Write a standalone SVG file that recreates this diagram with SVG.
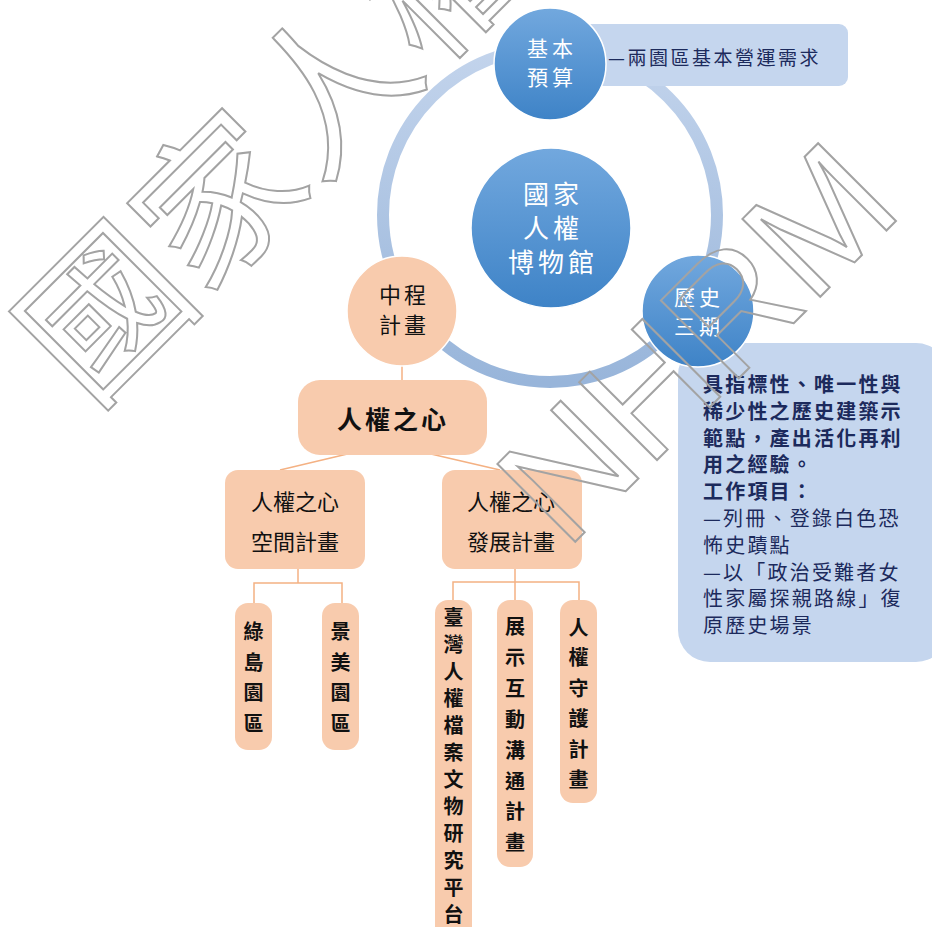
<svg xmlns="http://www.w3.org/2000/svg" width="932" height="927" viewBox="0 0 932 927">
<defs>
<linearGradient id="ringG" x1="0" y1="0" x2="0" y2="1"><stop offset="0" stop-color="#c3d4ec"/><stop offset="1" stop-color="#98b5da"/></linearGradient>
<linearGradient id="blueG" x1="0" y1="0" x2="0" y2="1"><stop offset="0" stop-color="#72a8de"/><stop offset="1" stop-color="#3e83c7"/></linearGradient>
<style>
.cjk{font-family:"Noto Sans CJK TC","Noto Sans CJK SC",sans-serif}
.wt{fill:#fff;font-size:21px;letter-spacing:4px}
.big{fill:#fff;font-size:26px;letter-spacing:4px}
.dk{fill:#111;}
.peach{fill:#f8cbad}
.lightblue{fill:#c5d6ee}
.conn{stroke:#f4b183;stroke-width:1.5;fill:none}
.panel{fill:#1c2a5c;font-size:20px;letter-spacing:2.2px}
.leaf{fill:#111;font-size:20px;font-weight:bold}
.wm{fill:none;stroke:#a3a3a3;stroke-width:2}
</style>
</defs>
<rect width="932" height="927" fill="#fff"/>

<g id="ring"><circle cx="550" cy="215" r="167" fill="none" stroke="url(#ringG)" stroke-width="12"/></g>

<g id="connectors">
<line class="conn" x1="402" y1="360" x2="402" y2="385"/>
<line class="conn" x1="360" y1="451" x2="280" y2="470"/>
<line class="conn" x1="418" y1="451" x2="500" y2="470"/>
<polyline class="conn" points="298,565 298,583"/>
<polyline class="conn" points="254,606 254,583 342,583 342,606"/>
<polyline class="conn" points="515,565 515,582"/>
<polyline class="conn" points="453,603 453,582 579,582 579,603"/>
<line class="conn" x1="515" y1="582" x2="515" y2="603"/>
</g>

<g id="basic-label">
<rect class="lightblue" x="570" y="24" width="278" height="62" rx="9"/>
<text class="cjk" x="608" y="65" font-size="19" letter-spacing="2.5" fill="#1c2a5c">—兩園區基本營運需求</text>
</g>
<g id="basic">
<circle cx="550" cy="64" r="56" fill="url(#blueG)" stroke="#fff" stroke-width="1.5"/>
<text class="cjk wt" x="552" y="56" text-anchor="middle">基本</text>
<text class="cjk wt" x="552" y="85" text-anchor="middle">預算</text>
</g>

<g id="museum">
<circle cx="551" cy="228" r="80" fill="url(#blueG)" stroke="#fff" stroke-width="1.5"/>
<text class="cjk big" x="553" y="204" text-anchor="middle">國家</text>
<text class="cjk big" x="553" y="238" text-anchor="middle">人權</text>
<text class="cjk big" x="553" y="272" text-anchor="middle">博物館</text>
</g>

<g id="history-panel">
<rect class="lightblue" x="678" y="343" width="270" height="319" rx="32"/>
<text class="cjk panel" font-weight="bold">
<tspan x="703" y="392">具指標性、唯一性與</tspan>
<tspan x="703" y="419">稀少性之歷史建築示</tspan>
<tspan x="703" y="446">範點，產出活化再利</tspan>
<tspan x="703" y="472">用之經驗。</tspan>
<tspan x="703" y="499">工作項目：</tspan>
</text>
<text class="cjk panel">
<tspan x="703" y="526">—列冊、登錄白色恐</tspan>
<tspan x="703" y="553">怖史蹟點</tspan>
<tspan x="703" y="580">—以「政治受難者女</tspan>
<tspan x="703" y="606">性家屬探親路線」復</tspan>
<tspan x="703" y="633">原歷史場景</tspan>
</text>
</g>
<g id="history">
<circle cx="698" cy="311" r="56" fill="url(#blueG)" stroke="#fff" stroke-width="1.5"/>
<text class="cjk wt" x="699" y="305" text-anchor="middle">歷史</text>
<text class="cjk wt" x="699" y="334" text-anchor="middle">三期</text>
</g>

<g id="midterm">
<circle class="peach" cx="402" cy="311" r="55" stroke="#fff" stroke-width="1.5"/>
<text class="cjk dk" x="404" y="303" font-size="22" letter-spacing="3" text-anchor="middle">中程</text>
<text class="cjk dk" x="404" y="333" font-size="22" letter-spacing="3" text-anchor="middle">計畫</text>
</g>

<g id="heart">
<rect class="peach" x="298" y="380" width="189" height="75" rx="22"/>
<text class="cjk dk" x="393" y="429" font-size="25" font-weight="bold" letter-spacing="3" text-anchor="middle">人權之心</text>
</g>

<g id="space-plan">
<rect class="peach" x="225" y="470" width="140" height="99" rx="13"/>
<text class="cjk dk" x="295" y="510" font-size="22" text-anchor="middle">人權之心</text>
<text class="cjk dk" x="295" y="550" font-size="22" text-anchor="middle">空間計畫</text>
</g>

<g id="dev-plan">
<rect class="peach" x="442" y="470" width="140" height="99" rx="13"/>
<text class="cjk dk" x="511" y="510" font-size="22" text-anchor="middle">人權之心</text>
<text class="cjk dk" x="511" y="550" font-size="22" text-anchor="middle">發展計畫</text>
</g>

<g id="lyudao">
<rect class="peach" x="235" y="603" width="37" height="147" rx="13"/>
<text class="cjk leaf" text-anchor="middle"><tspan x="253.5" y="639">綠</tspan><tspan x="253.5" dy="30.5">島</tspan><tspan x="253.5" dy="30.5">園</tspan><tspan x="253.5" dy="30.5">區</tspan></text>
</g>
<g id="jingmei">
<rect class="peach" x="322" y="603" width="37" height="147" rx="13"/>
<text class="cjk leaf" text-anchor="middle"><tspan x="340.5" y="639">景</tspan><tspan x="340.5" dy="30.5">美</tspan><tspan x="340.5" dy="30.5">園</tspan><tspan x="340.5" dy="30.5">區</tspan></text>
</g>
<g id="archive">
<rect class="peach" x="435" y="600" width="37" height="345" rx="13"/>
<text class="cjk leaf" font-size="19" text-anchor="middle"><tspan x="453.5" y="625">臺</tspan><tspan x="453.5" dy="27">灣</tspan><tspan x="453.5" dy="27">人</tspan><tspan x="453.5" dy="27">權</tspan><tspan x="453.5" dy="27">檔</tspan><tspan x="453.5" dy="27">案</tspan><tspan x="453.5" dy="27">文</tspan><tspan x="453.5" dy="27">物</tspan><tspan x="453.5" dy="27">研</tspan><tspan x="453.5" dy="27">究</tspan><tspan x="453.5" dy="27">平</tspan><tspan x="453.5" dy="27">台</tspan></text>
</g>
<g id="exhibit">
<rect class="peach" x="497" y="600" width="36" height="267" rx="13"/>
<text class="cjk leaf" text-anchor="middle"><tspan x="515" y="634">展</tspan><tspan x="515" dy="30.9">示</tspan><tspan x="515" dy="30.9">互</tspan><tspan x="515" dy="30.9">動</tspan><tspan x="515" dy="30.9">溝</tspan><tspan x="515" dy="30.9">通</tspan><tspan x="515" dy="30.9">計</tspan><tspan x="515" dy="30.9">畫</tspan></text>
</g>
<g id="guard">
<rect class="peach" x="560" y="600" width="37" height="203" rx="13"/>
<text class="cjk leaf" text-anchor="middle"><tspan x="578.5" y="635">人</tspan><tspan x="578.5" dy="30.4">權</tspan><tspan x="578.5" dy="30.4">守</tspan><tspan x="578.5" dy="30.4">護</tspan><tspan x="578.5" dy="30.4">計</tspan><tspan x="578.5" dy="30.4">畫</tspan></text>
</g>

<g id="watermark">
<text class="cjk wm" transform="translate(105,313) rotate(-45)" x="-80" y="58" font-size="160">國家人權</text>
<text class="wm" transform="translate(566,551) rotate(-45)" x="0" y="0" font-size="160" font-family="Liberation Sans, Arial, sans-serif">NHRM</text>
</g>
</svg>
